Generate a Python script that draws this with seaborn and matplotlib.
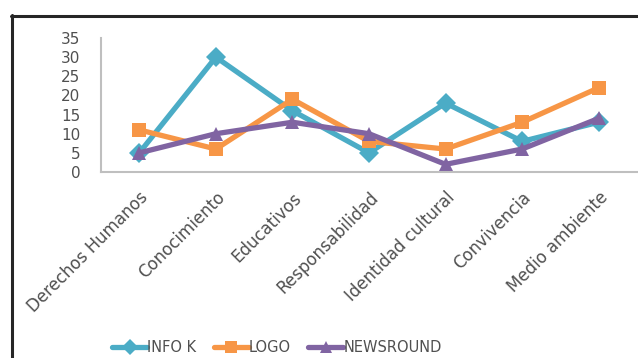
import pandas as pd
import seaborn as sns
import matplotlib.pyplot as plt
from matplotlib.lines import Line2D

# datos
categorias = ['Derechos Humanos', 'Conocimiento', 'Educativos', 'Responsabilidad',
              'Identidad cultural', 'Convivencia', 'Medio ambiente']
info_k = [5, 30, 16, 5, 18, 8, 13]
logo = [11, 6, 19, 8, 6, 13, 22]
newsround = [5, 10, 13, 10, 2, 6, 14]
y_ticks = [0, 5, 10, 15, 20, 25, 30, 35]

dados = pd.DataFrame({'categoria': categorias * 3,
                      'valor': info_k + logo + newsround,
                      'serie': ['INFO K'] * 7 + ['LOGO'] * 7 + ['NEWSROUND'] * 7})

sns.set_style('white')
plt.rcParams['font.family'] = ['DejaVu Sans']

cores = {'INFO K': '#4bacc6', 'LOGO': '#f79646', 'NEWSROUND': '#8064a2'}
marcadores = {'INFO K': 'D', 'LOGO': 's', 'NEWSROUND': '^'}

fig = plt.figure(figsize=(6.38, 3.58), dpi=100)
ax = fig.add_axes([101 / 638, 1 - 172 / 358, (637 - 101) / 638, (172 - 38) / 358])

for serie in ['INFO K', 'LOGO', 'NEWSROUND']:
    sub = dados[dados['serie'] == serie]
    sns.lineplot(data=sub, x='categoria', y='valor', ax=ax, color=cores[serie],
                 marker=marcadores[serie], markersize=10.5, linewidth=3.8,
                 markeredgewidth=0, label=serie, sort=False)

ax.set_xlim(-0.5, 6.5)
ax.set_ylim(0, 35)
ax.set_yticks(y_ticks)
ax.set_xlabel('')
ax.set_ylabel('')
ax.tick_params(axis='y', labelsize=11, colors='#505050', length=0, pad=15)
ax.tick_params(axis='x', labelsize=12, colors='#505050', length=0, pad=12)
plt.setp(ax.get_xticklabels(), rotation=45, ha='right', rotation_mode='anchor')
sns.despine(ax=ax)
ax.spines['left'].set_color('#bfbfbf')
ax.spines['bottom'].set_color('#bfbfbf')
ax.spines['left'].set_linewidth(1.5)
ax.spines['bottom'].set_linewidth(1.5)

ax.legend(loc='center', bbox_to_anchor=(277 / 638, 1 - 348 / 358),
          bbox_transform=fig.transFigure, ncol=3, frameon=False,
          fontsize=10.5, handlelength=2.4, handletextpad=0.0, columnspacing=1.2,
          labelcolor='#505050', markerscale=0.8)

# moldura
fig.add_artist(Line2D([12 / 638, 12 / 638], [0, 1 - 15 / 358], transform=fig.transFigure,
                      color='#262626', linewidth=2.2))
fig.add_artist(Line2D([11 / 638, 1], [1 - 16 / 358, 1 - 16 / 358], transform=fig.transFigure,
                      color='#262626', linewidth=2.2))

plt.savefig('out.png', dpi=100)
